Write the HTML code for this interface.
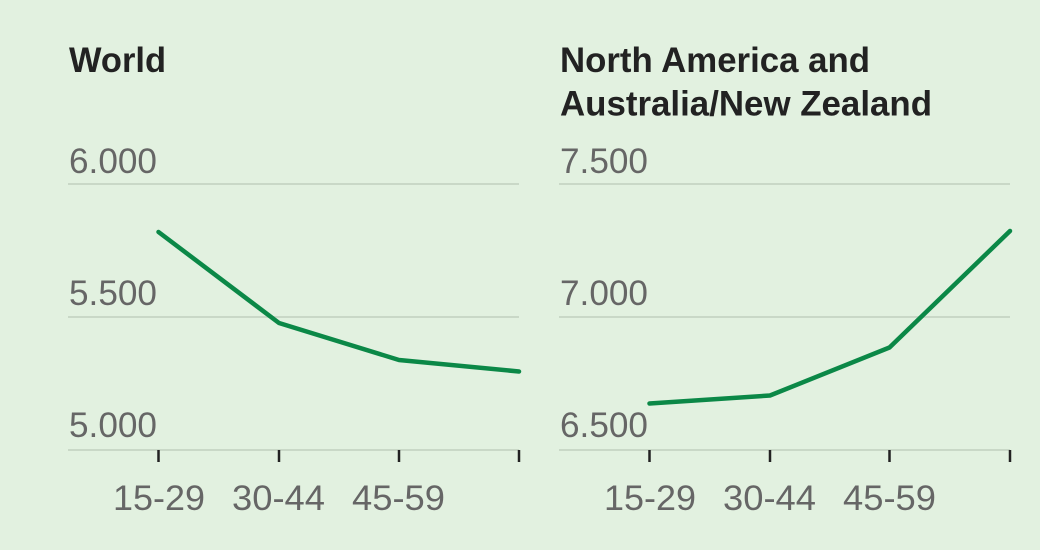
<!DOCTYPE html>
<html><head><meta charset="utf-8"><style>
html,body{margin:0;padding:0;background:#e2f1e0;}
svg{display:block;}
text{font-family:"Liberation Sans",Arial,sans-serif;}
.t{font-weight:bold;fill:#222;font-size:35px;}
.l{fill:#666;font-size:35px;}
.g{stroke:#c9d8c7;stroke-width:2;}
.k{stroke:#222;stroke-width:2.5;}
.s{fill:none;stroke:#0b8847;stroke-width:4.5;stroke-linejoin:round;stroke-linecap:round;}
</style></head><body>
<svg width="1040" height="550" viewBox="0 0 1040 550" xmlns="http://www.w3.org/2000/svg">
<rect width="1040" height="550" fill="#e2f1e0"/>
<!-- Left panel -->
<text class="t" x="69" y="72" textLength="97" lengthAdjust="spacingAndGlyphs">World</text>
<line class="g" x1="68" y1="184" x2="519" y2="184"/>
<line class="g" x1="68" y1="317" x2="519" y2="317"/>
<line class="g" x1="68" y1="450" x2="519" y2="450"/>
<text class="l" x="69" y="173" textLength="88" lengthAdjust="spacingAndGlyphs">6.000</text>
<text class="l" x="69" y="305" textLength="88" lengthAdjust="spacingAndGlyphs">5.500</text>
<text class="l" x="69" y="437" textLength="88" lengthAdjust="spacingAndGlyphs">5.000</text>
<line class="k" x1="158.5" y1="450" x2="158.5" y2="462"/>
<line class="k" x1="279" y1="450" x2="279" y2="462"/>
<line class="k" x1="399" y1="450" x2="399" y2="462"/>
<line class="k" x1="519" y1="450" x2="519" y2="462"/>
<text class="l" x="113" y="510" textLength="92" lengthAdjust="spacingAndGlyphs">15-29</text>
<text class="l" x="232" y="510" textLength="93" lengthAdjust="spacingAndGlyphs">30-44</text>
<text class="l" x="352" y="510" textLength="93" lengthAdjust="spacingAndGlyphs">45-59</text>
<polyline class="s" points="158.5,232 279,323 399,360 519,371.5"/>
<!-- Right panel -->
<text class="t" x="560" y="72" textLength="310" lengthAdjust="spacingAndGlyphs">North America and</text>
<text class="t" x="560" y="115.5" textLength="372" lengthAdjust="spacingAndGlyphs">Australia/New Zealand</text>
<line class="g" x1="559" y1="184" x2="1010" y2="184"/>
<line class="g" x1="559" y1="317" x2="1010" y2="317"/>
<line class="g" x1="559" y1="450" x2="1010" y2="450"/>
<text class="l" x="560" y="173" textLength="88" lengthAdjust="spacingAndGlyphs">7.500</text>
<text class="l" x="560" y="305" textLength="88" lengthAdjust="spacingAndGlyphs">7.000</text>
<text class="l" x="560" y="437" textLength="88" lengthAdjust="spacingAndGlyphs">6.500</text>
<line class="k" x1="649.5" y1="450" x2="649.5" y2="462"/>
<line class="k" x1="770" y1="450" x2="770" y2="462"/>
<line class="k" x1="889.5" y1="450" x2="889.5" y2="462"/>
<line class="k" x1="1010" y1="450" x2="1010" y2="462"/>
<text class="l" x="604" y="510" textLength="92" lengthAdjust="spacingAndGlyphs">15-29</text>
<text class="l" x="723" y="510" textLength="93" lengthAdjust="spacingAndGlyphs">30-44</text>
<text class="l" x="843" y="510" textLength="93" lengthAdjust="spacingAndGlyphs">45-59</text>
<polyline class="s" points="649.5,403.5 770,395.5 889.5,347.5 1010,231"/>
</svg>
</body></html>
